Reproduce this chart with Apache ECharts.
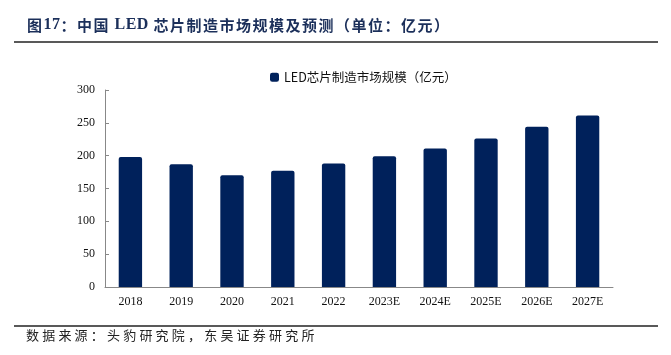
<!DOCTYPE html>
<html><head><meta charset="utf-8">
<script src="https://cdn.jsdelivr.net/npm/echarts@6/dist/echarts.min.js"></script>
<style>html,body{margin:0;padding:0;background:#fff}#c{width:671px;height:355px}</style>
</head><body><div id="c"></div>
<script>
const categories = ['2018','2019','2020','2021','2022','2023E','2024E','2025E','2026E','2027E'];
const marketSize = [198, 187, 170, 177, 188, 199, 211, 226, 244, 261];
const seriesName = 'LED芯片制造市场规模（亿元）';
const titleText = '图17：中国 LED 芯片制造市场规模及预测（单位：亿元）';
const sourceText = '数据来源：头豹研究院，东吴证券研究所';
const yTicks = [0, 300, 50];

// lay out text character by character with extra letter spacing for CJK glyphs
const mctx = document.createElement('canvas').getContext('2d');
function spacedText(str, x0, yMid, font, latinFont, color, spacing) {
  const els = [];
  let x = x0;
  for (const ch of str) {
    const isLatin = ch.charCodeAt(0) < 128;
    const f = (latinFont && isLatin) ? latinFont : font;
    mctx.font = f;
    els.push({type: 'text', x: x, y: yMid, silent: true,
      style: {text: ch, font: f, fill: color, verticalAlign: 'middle', align: 'left'}});
    x += mctx.measureText(ch).width + (isLatin ? 0.5 : spacing);
  }
  return els;
}

const titleFont = 'bold 15px "Noto Sans CJK SC"';
const titleLatin = 'bold 16px "Liberation Serif"';
const srcFont = '13px "Noto Sans CJK SC"';

const chart = echarts.init(document.getElementById('c'));
chart.setOption({
  animation: false,
  backgroundColor: '#fff',
  graphic: [
    {type: 'line', shape: {x1: 14, y1: 42, x2: 658, y2: 42}, style: {stroke: '#222', lineWidth: 1.5}},
    {type: 'line', shape: {x1: 14, y1: 326, x2: 658, y2: 326}, style: {stroke: '#222', lineWidth: 1.5}}
  ].concat(spacedText(titleText, 27, 25, titleFont, titleLatin, '#1b2f5a', 1.5))
   .concat(spacedText(sourceText, 26, 335, srcFont, null, '#222', 3.2)),
  legend: {
    data: [seriesName], top: 66, left: 265, itemWidth: 9, itemHeight: 9, itemGap: 1,
    icon: 'roundRect',
    textStyle: {fontFamily: '"Noto Sans CJK SC"', fontSize: 12.5, color: '#111'}
  },
  grid: {left: 105, right: 58, top: 90, bottom: 68},
  xAxis: {
    type: 'category', data: categories,
    axisLine: {lineStyle: {color: '#888'}},
    axisTick: {inside: true, length: 4, lineStyle: {color: '#888'}},
    axisLabel: {fontFamily: '"Liberation Serif"', fontSize: 12, color: '#111', margin: 9}
  },
  yAxis: {
    type: 'value', min: yTicks[0], max: yTicks[1], interval: yTicks[2],
    axisLine: {show: true, lineStyle: {color: '#888'}},
    axisTick: {show: true, inside: true, length: 4, lineStyle: {color: '#888'}},
    splitLine: {show: false},
    axisLabel: {fontFamily: '"Liberation Serif"', fontSize: 12, color: '#111', margin: 10}
  },
  series: [{
    name: seriesName, type: 'bar', data: marketSize, barWidth: '46%',
    itemStyle: {color: '#00215b', borderRadius: [2, 2, 0, 0]}
  }]
});
</script></body></html>
